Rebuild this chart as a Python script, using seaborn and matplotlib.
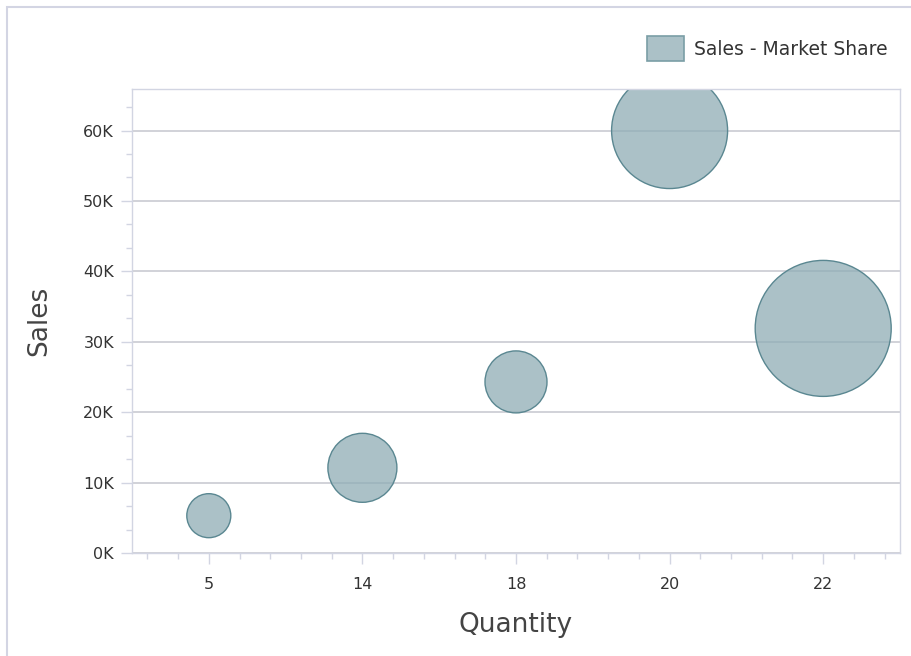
import numpy as np
import pandas as pd
import seaborn as sns
import matplotlib.pyplot as plt
from matplotlib.patches import Patch, Rectangle
from matplotlib.ticker import MultipleLocator, FuncFormatter

# -------------------------------
#  Datos
# -------------------------------
quantity = ["5", "14", "18", "20", "22"]
sales = [5300, 12100, 24300, 60000, 31900]
market_share = [0.22, 0.345, 0.31, 0.58, 0.68]

df = pd.DataFrame({"Quantity": quantity, "Sales": sales, "Share": market_share})

# Diametro de la burbuja proporcional a la cuota de mercado (px -> pt^2)
DPI = 100
size_map = {s: (s * 200 * 72 / DPI) ** 2 for s in market_share}

FILL = (0x8f / 255, 0xad / 255, 0xb5 / 255, 0.75)
EDGE = "#5a8791"
GRID = "#c9cbd2"
AXIS = "#d2d5e2"
TEXT = "#333333"

sns.set_theme(style="white")
plt.rcParams["font.family"] = ["DejaVu Sans"]

W, H = 911, 656
AX_H = 553 - 89
fig = plt.figure(figsize=(W / DPI, H / DPI), dpi=DPI)
ax = fig.add_axes([132 / W, 1 - 553 / H, (900 - 132) / W, AX_H / H])

sns.scatterplot(data=df, x="Quantity", y="Sales", size="Share", sizes=size_map,
                color="#8fadb5", linewidth=1.0, legend=False, ax=ax, zorder=3)
for c in ax.collections:
    c.set_facecolor(FILL)
    c.set_edgecolor(EDGE)
    c.set_clip_on(True)
    c.set_clip_path(ax.patch)

ax.set_xlim(-0.5, len(quantity) - 0.5)
ax.set_ylim(0, 65900)

ax.yaxis.set_major_locator(MultipleLocator(10000))
ax.yaxis.set_minor_locator(MultipleLocator(10000 / 3))
ax.yaxis.set_major_formatter(FuncFormatter(lambda v, p: f"{int(round(v / 1000))}K"))
ax.xaxis.set_minor_locator(MultipleLocator(0.2))

ax.grid(axis="y", which="major", color=GRID, linewidth=1.2, zorder=0)
ax.grid(axis="x", visible=False)
ax.set_axisbelow(True)

for sp in ax.spines.values():
    sp.set_color(AXIS)
    sp.set_linewidth(1.0)
    sp.set_zorder(20)

ax.tick_params(axis="both", which="major", length=8, width=1, color=AXIS,
               labelsize=11.5, labelcolor=TEXT, direction="out")
ax.tick_params(axis="x", which="major", pad=9)
ax.tick_params(axis="y", which="major", pad=5)
ax.tick_params(axis="both", which="minor", length=4, width=1, color=AXIS, direction="out")
ax.tick_params(axis="x", which="both", bottom=True)
ax.tick_params(axis="y", which="both", left=True)

ax.set_xlabel("Quantity", fontsize=19, color="#444444", labelpad=15)
ax.set_ylabel("Sales", fontsize=19, color="#444444", labelpad=22)

# Franja blanca sobre el borde superior: las burbujas quedan cortadas como en el original
ax.add_patch(Rectangle((0, 1), 1, 25 / AX_H, transform=ax.transAxes,
                       facecolor="white", edgecolor="none", clip_on=False, zorder=10))

# Leyenda
handle = Patch(facecolor="#abc1c7", edgecolor="#7a9ea6", linewidth=1.2)
fig.legend([handle], ["Sales - Market Share"], loc="center right",
           bbox_to_anchor=(897 / W, 1 - 48.5 / H), frameon=False,
           fontsize=13.5, handlelength=1.95, handleheight=1.6, handletextpad=0.55,
           borderpad=0, labelcolor=TEXT)

# Borde exterior del grafico
fig.add_artist(Rectangle((7 / W, -0.1), 1.2, 1 - 7 / H + 0.1,
                         transform=fig.transFigure, fill=False,
                         edgecolor="#d3d5e3", linewidth=1.5, zorder=2))

fig.savefig("out.png", dpi=DPI)
